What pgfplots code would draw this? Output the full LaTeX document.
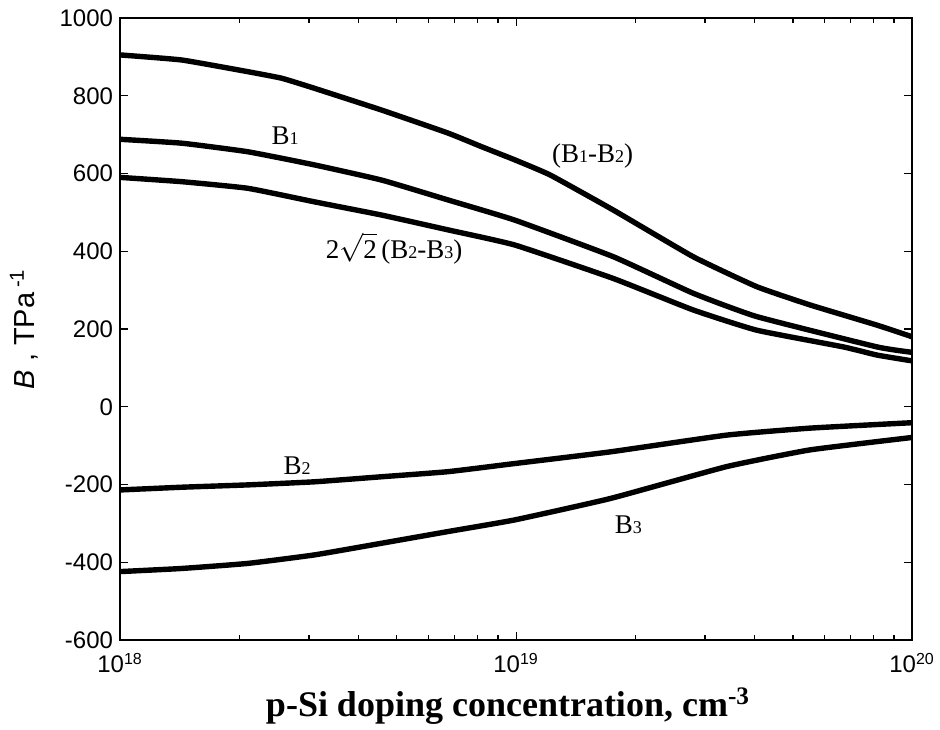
\documentclass[border=0pt]{standalone}
\usepackage{pgfplots}
\pgfplotsset{compat=1.18}
\usepackage{fontspec}
\setmainfont{Liberation Serif}
\newfontfamily\arial{Liberation Sans}
\newcommand\sub[1]{{\fontsize{9}{9}\selectfont #1}}
\begin{document}
\begin{tikzpicture}
\begin{axis}[
  at={(0,0)}, anchor=south west, scale only axis,
  width=396pt, height=311pt,
  xmode=log, xmin=1e18, xmax=1e20, ymin=-600, ymax=1000,
  xtick={1e18,1e19,1e20},
  xticklabels={10\textsuperscript{18},10\textsuperscript{19},10\textsuperscript{20}},
  minor xtick={2e18,3e18,4e18,5e18,6e18,7e18,8e18,9e18,2e19,3e19,4e19,5e19,6e19,7e19,8e19,9e19},
  ytick={-600,-400,-200,0,200,400,600,800,1000},
  yticklabels={-600,-400,-200,0,200,400,600,800,1000},
  tick align=inside, tick pos=both,
  major tick length=4pt, minor tick length=2.5pt,
  axis line style={line width=0.8pt},
  every tick/.style={black, line width=0.6pt},
  tick label style={font=\arial\fontsize{12}{13}\selectfont},
  xticklabel style={yshift=-3pt},
  clip=true,
]
\addplot[black, line width=2.7pt, line join=round, smooth, tension=0.25] coordinates {
 (1e18,905) (1.43e18,892) (2.1e18,862) (2.56e18,845) (3.1e18,819) (4.58e18,763)
 (6.73e18,704) (8.18e18,669) (9.93e18,635) (1.22e19,596) (1.76e19,506)
 (2.8e19,386) (4.05e19,309) (5.52e19,262) (8.15e19,210) (1e20,180)};
\addplot[black, line width=2.7pt, line join=round, smooth, tension=0.25] coordinates {
 (1e18,688) (1.43e18,678) (2.1e18,656) (3.1e18,622) (4.58e18,583) (6.73e18,532)
 (9.93e18,480) (1.76e19,386) (2.8e19,292) (4.05e19,232) (8.15e19,154) (1e20,140)};
\addplot[black, line width=2.7pt, line join=round, smooth, tension=0.25] coordinates {
 (1e18,590) (1.43e18,579) (2.1e18,562) (3.1e18,527) (4.58e18,493) (6.73e18,455)
 (9.93e18,416) (1.76e19,330) (2.8e19,249) (4.05e19,197) (6.7e19,154) (8.15e19,133) (1e20,118)};
\addplot[black, line width=2.7pt, line join=round, smooth, tension=0.25] coordinates {
 (1e18,-214) (1.43e18,-207) (2.1e18,-201) (3.1e18,-193) (4.58e18,-180) (6.73e18,-167)
 (9.93e18,-146) (1.73e19,-116) (3.4e19,-73) (5.52e19,-55) (1e20,-41)};
\addplot[black, line width=2.7pt, line join=round, smooth, tension=0.25] coordinates {
 (1e18,-424) (1.43e18,-416) (2.1e18,-403) (3.1e18,-381) (4.58e18,-351) (6.73e18,-321)
 (9.93e18,-291) (1.73e19,-236) (3.4e19,-154) (5.52e19,-111) (1e20,-79)};
\node[font=\fontsize{13.5}{14}\selectfont] at (axis cs:2.61e18,696) {B\sub{1}};
\node[font=\fontsize{13.5}{14}\selectfont] at (axis cs:1.56e19,645) {(B\sub{1}-B\sub{2})};
\node[font=\fontsize{13.5}{14}\selectfont] at (axis cs:4.92e18,408) {2$\sqrt{\mbox{2}}$\,(B\sub{2}-B\sub{3})};
\node[font=\fontsize{13.5}{14}\selectfont] at (axis cs:2.80e18,-152) {B\sub{2}};
\node[font=\fontsize{13.5}{14}\selectfont] at (axis cs:1.92e19,-304) {B\sub{3}};
\end{axis}
\node[rotate=90, font=\arial\fontsize{14.5}{15}\selectfont] at (-48pt,155.5pt) {\textit{B} , TPa\,\textsuperscript{-1}};
\node[font=\bfseries\fontsize{18}{19}\selectfont] at (194pt,-33pt) {p-Si doping concentration, cm\textsuperscript{-3}};
\pgfresetboundingbox
\path (-60pt,-44.5pt) rectangle (410pt,320pt);
\end{tikzpicture}
\end{document}
